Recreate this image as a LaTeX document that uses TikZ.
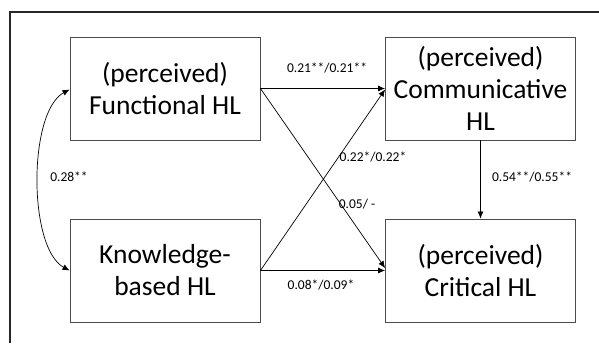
\documentclass[tikz,border=0pt]{standalone}
\usepackage{fontspec}
\setmainfont{Carlito}
\usetikzlibrary{arrows.meta,calc}
\begin{document}
\begin{tikzpicture}[x=1pt,y=-1pt,
  hlbox/.style={draw=black!70, line width=0.9pt, minimum width=190pt, minimum height=103pt,
    align=center, inner sep=0pt, font=\fontsize{27.5}{32}\selectfont},
  coef/.style={font=\fontsize{13.5}{15}\selectfont, inner sep=0pt},
  conn/.style={line width=0.7pt, -{Latex[length=7pt,width=6pt]}},
  biconn/.style={line width=0.7pt, {Latex[length=7pt,width=6pt]}-{Latex[length=7pt,width=6pt]}}]
\useasboundingbox (0,0) rectangle (599,343);
\fill[white] (0,0) rectangle (599,343);
\draw[line width=1.4pt, black!85] (599,12) -- (10,12) -- (10,343);
\node[hlbox] (func) at (165,88.5) {(perceived)\\Functional HL};
\node[hlbox] (comm) at (480.5,88.5) {(perceived)\\Communicative\\HL};
\node[hlbox] (know) at (165,270.5) {Knowledge-\\based HL};
\node[hlbox] (crit) at (480.5,270.5) {(perceived)\\Critical HL};
\draw[conn] (func.east) -- (comm.west);
\draw[conn] (func.east) -- ([yshift=2.5pt]crit.west);
\draw[conn] (know.east) -- ([yshift=-1pt]comm.west);
\draw[conn] (know.east) -- (crit.west);
\draw[conn] (comm.south) -- (crit.north);
\draw[biconn] ([yshift=-1pt]func.west) .. controls (28,112) and (28,248) .. ([yshift=0pt]know.west);
\node[coef] (l1) at (327,68) {0.21**/0.21**};
\node[coef] (l2) at (373,157) {0.22*/0.22*};
\node[coef] (l3) at (357,204) {0.05/ -};
\node[coef] (l4) at (321,285) {0.08*/0.09*};
\node[coef] (l5) at (532,177) {0.54**/0.55**};
\node[coef] (l6) at (69,177) {0.28**};
\end{tikzpicture}
\end{document}
